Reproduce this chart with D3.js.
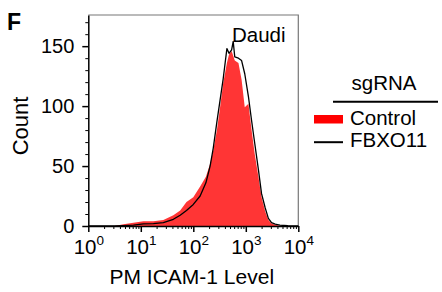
<!DOCTYPE html>
<html>
<head>
<meta charset="utf-8">
<script src="https://cdn.jsdelivr.net/npm/d3@7"></script>
<style>
  html, body { margin: 0; padding: 0; background: #fff; }
  svg { display: block; font-family: "Liberation Sans", Arial, sans-serif; }
</style>
</head>
<body>
<div id="chart"></div>
<script>
// log10 of PM ICAM-1 level at each sampled bin
const binLog = [0, 0.5, 0.67, 0.86, 1.05, 1.24, 1.43, 1.62, 1.75, 1.87, 2.0, 2.13, 2.24, 2.32, 2.38,
  2.45, 2.51, 2.57, 2.64, 2.68, 2.73, 2.76, 2.79, 2.86, 2.92, 2.98, 3.05, 3.11, 3.17, 3.24, 3.30,
  3.37, 3.43, 3.49, 3.56, 3.65, 3.8, 4.0];
const controlCounts = [0, 0, 1.4, 2.8, 3.9, 3.9, 5, 9, 13, 20, 24, 33, 41, 52, 63,
  80, 99, 119, 136, 143, 146, 142, 138, 136, 122, 99, 102, 80, 60, 41, 24,
  12, 5, 2, 1, 0.3, 0, 0];
const fbxo11Counts = [0, 0, 0.3, 0.8, 1.7, 2, 2.8, 5.6, 9, 13, 18, 25, 36, 50, 65,
  87, 105, 123, 148, 144, 147, 154, 141, 140, 138, 127, 108, 88, 69, 47, 27,
  15, 6.4, 2.8, 1.5, 0.8, 0.2, 0];
const xMajorTicks = [1, 10, 100, 1000, 10000];
const yTicks = [0, 50, 100, 150];
const legendItems = ['Control', 'FBXO11'];

const width = 442, height = 292;
const svg = d3.select('#chart').append('svg')
  .attr('width', width).attr('height', height);

const x = d3.scaleLog().domain([1, 1e4]).range([88.3, 298.3]);
const y = d3.scaleLinear().domain([0, 176]).range([226, 15]);

const controlData = binLog.map((l, i) => ({ v: Math.pow(10, l), c: controlCounts[i] }));
const fbxoData = binLog.map((l, i) => ({ v: Math.pow(10, l), c: fbxo11Counts[i] }));

// frame (top + right in grey)
svg.append('path')
  .attr('d', `M${x(1)},${y(176)}H${x(1e4)}V${y(0)}`)
  .attr('fill', 'none').attr('stroke', '#777').attr('stroke-width', 1.2);

// filled control histogram
const area = d3.area().x((d) => x(d.v)).y0(y(0)).y1((d) => y(d.c));
svg.append('path').datum(controlData)
  .attr('d', area)
  .attr('fill', '#ff3535');

// FBXO11 outline
const line = d3.line().x((d) => x(d.v)).y((d) => y(d.c));
svg.append('path').datum(fbxoData)
  .attr('d', line)
  .attr('fill', 'none').attr('stroke', '#000').attr('stroke-width', 1.3)
  .attr('stroke-linejoin', 'round');

// x axis
const minorX = [];
[1, 10, 100, 1000].forEach((dec) => { for (let k = 2; k <= 9; k++) minorX.push(dec * k); });
svg.append('g').attr('transform', `translate(0,${y(0)})`)
  .call(d3.axisBottom(x).tickValues(minorX).tickSize(3).tickFormat(''))
  .call((s) => s.select('.domain').remove())
  .call((s) => s.selectAll('line').attr('stroke', '#000').attr('stroke-width', 1));
const xAxis = svg.append('g').attr('transform', `translate(0,${y(0)})`)
  .call(d3.axisBottom(x).tickValues(xMajorTicks).tickSize(6).tickSizeOuter(0));
xAxis.select('.domain').attr('stroke', '#000').attr('stroke-width', 1.5);
xAxis.selectAll('line').attr('stroke', '#000').attr('stroke-width', 1.5);
xAxis.selectAll('text').each(function (d) {
  const t = d3.select(this).text('')
    .attr('y', 27.5).attr('dy', null)
    .attr('fill', '#000').style('font-size', '20.5px').attr('font-family', null);
  t.append('tspan').text('10');
  t.append('tspan').text(Math.round(Math.log10(d)))
    .attr('dy', -9).style('font-size', '13.5px');
});

// y axis
const minorY = d3.range(0, 171, 10).filter((v) => v % 50 !== 0);
svg.append('g').attr('transform', `translate(${x(1)},0)`)
  .call(d3.axisLeft(y).tickValues(minorY).tickSize(3).tickFormat(''))
  .call((s) => s.select('.domain').remove())
  .call((s) => s.selectAll('line').attr('stroke', '#000').attr('stroke-width', 1));
const yAxis = svg.append('g').attr('transform', `translate(${x(1)},0)`)
  .call(d3.axisLeft(y).tickValues(yTicks).tickSize(6).tickSizeOuter(0).tickPadding(8));
yAxis.select('.domain').attr('stroke', '#000').attr('stroke-width', 1.5);
yAxis.selectAll('line').attr('stroke', '#000').attr('stroke-width', 1.5);
yAxis.selectAll('text').attr('fill', '#000').style('font-size', '20px').attr('font-family', null);

// axis titles
svg.append('text')
  .attr('x', (x(1) + x(1e4)) / 2 - 1.5).attr('y', 284)
  .attr('text-anchor', 'middle').style('font-size', '21px')
  .text('PM ICAM-1 Level');
svg.append('text')
  .attr('transform', 'translate(28,126) rotate(-90)')
  .attr('text-anchor', 'middle').style('font-size', '22px')
  .text('Count');

// panel letter and cell line label
svg.append('text').attr('x', 7).attr('y', 30)
  .style('font-size', '23px').style('font-weight', 'bold').text('F');
svg.append('text').attr('x', 232).attr('y', 41.5)
  .style('font-size', '20.5px').text('Daudi');

// legend
const legend = svg.append('g');
legend.append('text').attr('x', 384).attr('y', 90)
  .attr('text-anchor', 'middle').style('font-size', '20.5px').text('sgRNA');
legend.append('line').attr('x1', 333).attr('x2', 438).attr('y1', 101.7).attr('y2', 101.7)
  .attr('stroke', '#000').attr('stroke-width', 2);
legendItems.forEach((name, i) => {
  const yy = 125 + i * 21.7;
  if (i === 0) {
    legend.append('rect').attr('x', 314).attr('y', yy - 10).attr('width', 29).attr('height', 8.5)
      .attr('fill', '#ff0000');
  } else {
    legend.append('line').attr('x1', 314).attr('x2', 343).attr('y1', yy - 4.5).attr('y2', yy - 4.5)
      .attr('stroke', '#000').attr('stroke-width', 2);
  }
  legend.append('text').attr('x', 350).attr('y', yy)
    .style('font-size', '20.5px').text(name);
});
</script>
</body>
</html>
